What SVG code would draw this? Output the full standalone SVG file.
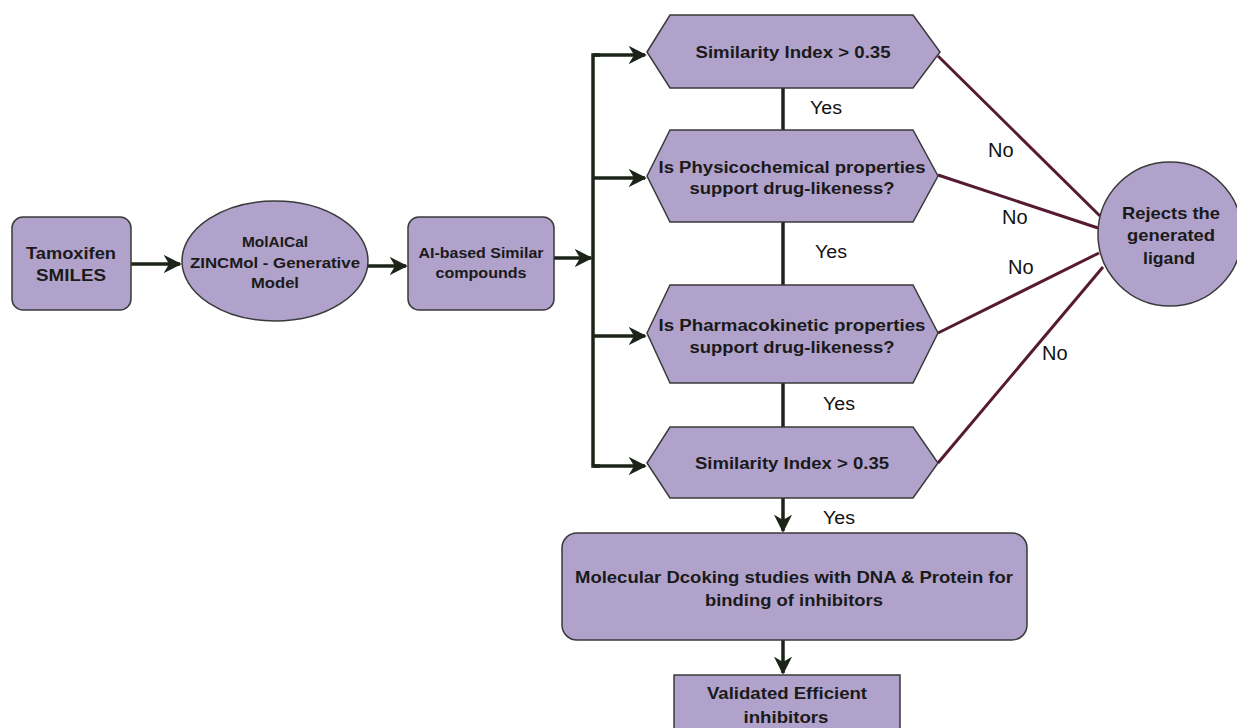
<svg xmlns="http://www.w3.org/2000/svg" width="1237" height="728" viewBox="0 0 1237 728">
<defs>
<marker id="arr" viewBox="0 0 10 10" refX="9" refY="5" markerWidth="5.2" markerHeight="5.2" markerUnits="strokeWidth" orient="auto">
<path d="M0,0 L10,5 L0,10 L3,5 z" fill="#1c2419"/>
</marker>
<style>
.n{fill:#b0a2cb;stroke:#3a3a3a;stroke-width:1.5}
.t{font-family:"Liberation Sans",Arial,sans-serif;font-weight:bold;font-size:16px;fill:#1a1a1a;text-anchor:middle}
.l{font-family:"Liberation Sans",Arial,sans-serif;font-size:18px;fill:#111;text-anchor:start}
.no{font-family:"Liberation Sans",Arial,sans-serif;font-size:20px;fill:#111;text-anchor:start}
.c{stroke:#1c2419;stroke-width:3.5;fill:none}
.r{stroke:#561a33;stroke-width:3;fill:none}
</style>
</defs>
<rect width="1237" height="728" fill="#fff"/>
<g id="connectors">
<line class="c" x1="131" y1="264" x2="180" y2="264" marker-end="url(#arr)"/>
<line class="c" x1="368" y1="266" x2="406" y2="266" marker-end="url(#arr)"/>
<line class="c" x1="554" y1="258" x2="591" y2="258" marker-end="url(#arr)"/>
<polyline class="c" points="600,55 593,55 593,466 600,466"/>
<line class="c" x1="593" y1="55" x2="645" y2="55" marker-end="url(#arr)"/>
<line class="c" x1="593" y1="178" x2="645" y2="178" marker-end="url(#arr)"/>
<line class="c" x1="593" y1="336" x2="645" y2="336" marker-end="url(#arr)"/>
<line class="c" x1="593" y1="466" x2="645" y2="466" marker-end="url(#arr)"/>
<line class="c" x1="783" y1="88" x2="783" y2="130"/>
<line class="c" x1="783" y1="222" x2="783" y2="285"/>
<line class="c" x1="783" y1="383" x2="783" y2="427"/>
<line class="c" x1="783" y1="498" x2="783" y2="531" marker-end="url(#arr)"/>
<line class="c" x1="783" y1="640" x2="783" y2="673" marker-end="url(#arr)"/>
<line class="r" x1="938" y1="56" x2="1100" y2="216"/>
<line class="r" x1="938" y1="175" x2="1098" y2="228"/>
<line class="r" x1="938" y1="333" x2="1099" y2="253"/>
<line class="r" x1="938" y1="463" x2="1103" y2="267"/>
<text class="l" x="810" y="114" textLength="32" lengthAdjust="spacingAndGlyphs">Yes</text>
<text class="l" x="815" y="258" textLength="32" lengthAdjust="spacingAndGlyphs">Yes</text>
<text class="l" x="823" y="410" textLength="32" lengthAdjust="spacingAndGlyphs">Yes</text>
<text class="l" x="823" y="524" textLength="32" lengthAdjust="spacingAndGlyphs">Yes</text>
<text class="no" x="988" y="157">No</text>
<text class="no" x="1002" y="224">No</text>
<text class="no" x="1008" y="274">No</text>
<text class="no" x="1042" y="360">No</text>
</g>
<g id="tamoxifen">
<rect class="n" x="12" y="217" width="119" height="93" rx="11"/>
<text class="t" x="71" y="259" textLength="90" lengthAdjust="spacingAndGlyphs">Tamoxifen</text>
<text class="t" x="71" y="281" textLength="70" lengthAdjust="spacingAndGlyphs">SMILES</text>
</g>
<g id="molaical">
<ellipse class="n" cx="275" cy="261" rx="93" ry="60"/>
<text class="t" x="275" y="247" style="font-size:15px" textLength="66" lengthAdjust="spacingAndGlyphs">MolAICal</text>
<text class="t" x="275" y="268" style="font-size:15px" textLength="170" lengthAdjust="spacingAndGlyphs">ZINCMol - Generative</text>
<text class="t" x="275" y="288" style="font-size:15px" textLength="48" lengthAdjust="spacingAndGlyphs">Model</text>
</g>
<g id="aibased">
<rect class="n" x="408" y="217" width="146" height="93" rx="11"/>
<text class="t" x="481" y="258" style="font-size:14.5px" textLength="125" lengthAdjust="spacingAndGlyphs">AI-based Similar</text>
<text class="t" x="481" y="278" style="font-size:14.5px" textLength="91" lengthAdjust="spacingAndGlyphs">compounds</text>
</g>
<g id="sim1">
<polygon class="n" points="647,52 670,15 913,15 940,52 913,88 670,88"/>
<text class="t" x="793" y="58" textLength="195" lengthAdjust="spacingAndGlyphs">Similarity Index &gt; 0.35</text>
</g>
<g id="physchem">
<polygon class="n" points="647,176 670,130 913,130 938,176 913,222 670,222"/>
<text class="t" x="792" y="173" textLength="267" lengthAdjust="spacingAndGlyphs">Is Physicochemical properties</text>
<text class="t" x="792" y="194" textLength="205" lengthAdjust="spacingAndGlyphs">support drug-likeness?</text>
</g>
<g id="pharmaco">
<polygon class="n" points="647,333 670,285 913,285 938,333 913,383 670,383"/>
<text class="t" x="792" y="331" textLength="267" lengthAdjust="spacingAndGlyphs">Is Pharmacokinetic properties</text>
<text class="t" x="792" y="353" textLength="205" lengthAdjust="spacingAndGlyphs">support drug-likeness?</text>
</g>
<g id="sim2">
<polygon class="n" points="647,463 670,427 913,427 938,463 913,498 670,498"/>
<text class="t" x="792" y="469" textLength="194" lengthAdjust="spacingAndGlyphs">Similarity Index &gt; 0.35</text>
</g>
<g id="reject">
<circle class="n" cx="1170" cy="234" r="72"/>
<text class="t" x="1171" y="219" style="font-size:17px" textLength="98" lengthAdjust="spacingAndGlyphs">Rejects the</text>
<text class="t" x="1171" y="241" style="font-size:17px" textLength="88" lengthAdjust="spacingAndGlyphs">generated</text>
<text class="t" x="1169" y="264" style="font-size:17px" textLength="52" lengthAdjust="spacingAndGlyphs">ligand</text>
</g>
<g id="docking">
<rect class="n" x="562" y="533" width="465" height="107" rx="15"/>
<text class="t" x="794" y="583" style="font-size:17px" textLength="438" lengthAdjust="spacingAndGlyphs">Molecular Dcoking studies with DNA &amp; Protein for</text>
<text class="t" x="794" y="606" style="font-size:17px" textLength="178" lengthAdjust="spacingAndGlyphs">binding of inhibitors</text>
</g>
<g id="validated">
<rect class="n" x="674" y="675" width="226" height="60"/>
<text class="t" x="787" y="699" style="font-size:17px" textLength="160" lengthAdjust="spacingAndGlyphs">Validated Efficient</text>
<text class="t" x="786" y="723" style="font-size:17px" textLength="85" lengthAdjust="spacingAndGlyphs">inhibitors</text>
</g>
</svg>
